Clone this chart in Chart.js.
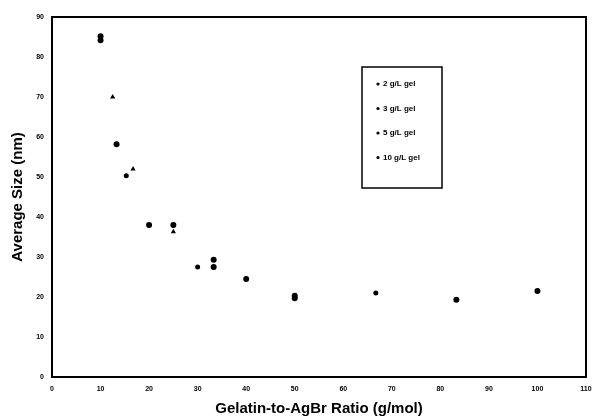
<!DOCTYPE html>
<html>
<head>
<meta charset="utf-8">
<script src="https://cdn.jsdelivr.net/npm/chart.js@4.4.1/dist/chart.umd.min.js"></script>
<style>
  html, body { margin: 0; padding: 0; background: #fff; }
  #wrap { width: 593px; height: 418px; }
</style>
</head>
<body>
<div id="wrap"><canvas id="c"></canvas></div>
<script>
// Дані
const seriesLabels = ['2 g/L gel', '3 g/L gel', '5 g/L gel', '10 g/L gel'];
const seriesStyles = ['circle', 'circle', 'triangle', 'circle'];

const gel2x = [10, 20, 33.3, 40, 50, 100];
const gel2y = [85.2, 38, 27.5, 24.5, 20.3, 21.5];

const gel3x = [10, 13.3, 25, 33.3, 50, 83.3];
const gel3y = [84.2, 58.2, 38, 29.3, 19.7, 19.3];

const gel5x = [12.5, 16.7, 25];
const gel5y = [70, 52, 36.3];

const gel10x = [15.3, 30, 66.7];
const gel10y = [50.3, 27.5, 21];

const xTicks = [0, 10, 20, 30, 40, 50, 60, 70, 80, 90, 100, 110];
const yTicks = [0, 10, 20, 30, 40, 50, 60, 70, 80, 90];

function toPoints(xs, ys) {
    return xs.map((x, i) => ({ x: x, y: ys[i] }));
}

const FONT = "'Liberation Sans', Arial, sans-serif";

// Рамка навколо області графіка
const frame = {
    id: 'frame',
    afterDraw(chart) {
        const a = chart.chartArea;
        const ctx = chart.ctx;
        ctx.save();
        ctx.strokeStyle = '#000';
        ctx.lineWidth = 2;
        ctx.strokeRect(a.left, a.top, a.right - a.left, a.bottom - a.top);
        ctx.restore();
    }
};

// Легенда всередині області графіка
const boxLegend = {
    id: 'boxLegend',
    afterDraw(chart) {
        const ctx = chart.ctx;
        const x0 = 362, y0 = 67, w = 80, h = 121;
        ctx.save();
        ctx.fillStyle = '#fff';
        ctx.fillRect(x0, y0, w, h);
        ctx.strokeStyle = '#000';
        ctx.lineWidth = 1.5;
        ctx.strokeRect(x0, y0, w, h);
        ctx.font = 'bold 8px ' + FONT;
        ctx.textBaseline = 'middle';
        ctx.fillStyle = '#000';
        chart.data.datasets.forEach((ds, i) => {
            const y = y0 + 17 + i * 24.5;
            ctx.beginPath();
            ctx.arc(x0 + 16, y, 1.6, 0, Math.PI * 2);
            ctx.fill();
            ctx.fillText(ds.label, x0 + 21, y);
        });
        ctx.restore();
    }
};

const datasets = [
    toPoints(gel2x, gel2y),
    toPoints(gel3x, gel3y),
    toPoints(gel5x, gel5y),
    toPoints(gel10x, gel10y)
].map((pts, i) => ({
    label: seriesLabels[i],
    data: pts,
    pointStyle: seriesStyles[i],
    pointRadius: i === 3 ? 2.5 : 3,
    backgroundColor: '#000',
    borderColor: '#000',
    borderWidth: 0
}));

new Chart(document.getElementById('c'), {
    type: 'scatter',
    data: { datasets: datasets },
    options: {
        responsive: true,
        maintainAspectRatio: false,
        animation: false,
        layout: { padding: { top: 17, right: 7, left: 0, bottom: 0 } },
        plugins: { legend: { display: false }, tooltip: { enabled: false } },
        scales: {
            x: {
                type: 'linear',
                min: 0, max: 110,
                afterBuildTicks: s => { s.ticks = xTicks.map(v => ({ value: v })); },
                afterFit: s => { s.height = 41; s.paddingLeft = 0; s.paddingRight = 0; },
                grid: { display: false, drawTicks: false },
                border: { display: false },
                ticks: { color: '#000', font: { family: FONT, size: 7, weight: 'bold' }, padding: 8, maxRotation: 0 },
                title: { display: true, text: 'Gelatin-to-AgBr Ratio (g/mol)', color: '#000',
                         font: { family: FONT, size: 15, weight: 'bold' }, padding: { top: 1, bottom: 0 } }
            },
            y: {
                type: 'linear',
                min: 0, max: 90,
                afterBuildTicks: s => { s.ticks = yTicks.map(v => ({ value: v })); },
                afterFit: s => { s.width = 52; s.paddingTop = 0; s.paddingBottom = 0; },
                grid: { display: false, drawTicks: false },
                border: { display: false },
                ticks: { color: '#000', font: { family: FONT, size: 7, weight: 'bold' }, padding: 8 },
                title: { display: true, text: 'Average Size (nm)', color: '#000',
                         font: { family: FONT, size: 15, weight: 'bold' }, padding: { top: 9, bottom: 0 } }
            }
        }
    },
    plugins: [frame, boxLegend]
});
</script>
</body>
</html>
